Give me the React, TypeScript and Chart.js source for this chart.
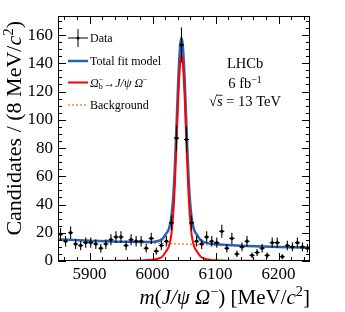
import React, { useEffect, useRef } from 'react';
import { Chart, registerables } from 'chart.js';

Chart.register(...registerables);

// ---------- data ----------
const binWidth = 8;
const binCenters = [5854, 5862, 5870, 5878, 5886, 5894, 5902, 5910, 5918, 5926, 5934, 5942, 5950, 5958, 5966, 5974, 5982, 5990, 5998, 6006, 6014, 6022, 6030, 6038, 6046, 6054, 6062, 6070, 6078, 6086, 6094, 6102, 6110, 6118, 6126, 6134, 6142, 6150, 6158, 6166, 6174, 6182, 6190, 6198, 6206, 6214, 6222, 6230, 6238, 6246];
const counts = [19, 14, 20, 12, 11, 13, 13, 12, 9, 12, 15, 17, 17, 11, 15, 14, 14, 9, 16, 7, 11, 14, 27, 87, 153, 86, 27, 14, 12, 17, 14, 13, 21, 9, 16, 5, 10, 14, 4, 6, 9, 4, 13, 13, 3, 11, 10, 13, 10, 9];

// fit curves
const fitMass = [5850, 5900, 5950, 6000, 6010, 6016, 6021, 6026, 6030, 6034, 6038, 6041, 6044, 6046, 6048, 6051, 6054, 6058, 6062, 6066, 6071, 6076, 6082, 6092, 6100, 6150, 6200, 6250];
const sigCurve = [0, 0, 0.1, 0.8, 1.8, 3.3, 6.5, 10.5, 19, 41, 82, 117, 141, 146, 141, 117, 82, 41, 19, 10.5, 6.5, 3.3, 1.8, 0.8, 0.5, 0.1, 0, 0];
const bkgCurve = [15.3, 14.4, 13.5, 12.7, 12.55, 12.45, 12.4, 12.3, 12.25, 12.2, 12.1, 12.1, 12.05, 12.0, 12.0, 11.95, 11.9, 11.85, 11.8, 11.75, 11.7, 11.6, 11.5, 11.4, 11.3, 10.6, 10.0, 9.4];

const xMin = 5850;
const xMax = 6250;
const yMin = 0;
const yMax = 173.5;
const xTickValues = [5900, 6000, 6100, 6200];
const yTickValues = [0, 20, 40, 60, 80, 100, 120, 140, 160];
const xMinorStep = 20;
const yMinorStep = 5;

const BLUE = 'rgb(38, 100, 178)';
const RED = '#ff0000';
const ORANGE = '#ff8a3a';
const FONT = '"Liberation Serif", "Times New Roman", serif';

Chart.defaults.font.family = FONT;

type Seg = { t: string; it?: boolean; sc?: 'sup' | 'sub'; stack?: boolean; over?: boolean };

function fontFor(size: number, s: Seg) {
  const sz = s.sc ? size * 0.68 : size;
  return `${s.it ? 'italic ' : ''}${sz}px ${FONT}`;
}
function richWidth(ctx: CanvasRenderingContext2D, segs: Seg[], size: number) {
  let w = 0;
  let pend = 0;
  for (const s of segs) {
    ctx.font = fontFor(size, s);
    const sw = ctx.measureText(s.t).width;
    if (s.stack) pend = Math.max(pend, sw);
    else {
      w += Math.max(sw, pend);
      pend = 0;
    }
  }
  return w + pend;
}
function drawRich(ctx: CanvasRenderingContext2D, segs: Seg[], x: number, y: number, size: number, align: 'left' | 'center' | 'right') {
  const w = richWidth(ctx, segs, size);
  let cx = align === 'left' ? x : align === 'center' ? x - w / 2 : x - w;
  ctx.textAlign = 'left';
  ctx.textBaseline = 'alphabetic';
  ctx.fillStyle = '#000';
  let pend = 0;
  for (const s of segs) {
    ctx.font = fontFor(size, s);
    const sw = ctx.measureText(s.t).width;
    const dy = s.sc === 'sup' ? -size * 0.36 : s.sc === 'sub' ? size * 0.22 : 0;
    ctx.fillText(s.t, cx, y + dy);
    if (s.over) {
      ctx.save();
      ctx.strokeStyle = '#000';
      ctx.lineWidth = 0.8;
      ctx.beginPath();
      ctx.moveTo(cx - 0.5, y - size * 0.74);
      ctx.lineTo(cx + sw, y - size * 0.74);
      ctx.stroke();
      ctx.restore();
    }
    if (s.stack) pend = Math.max(pend, sw);
    else {
      cx += Math.max(sw, pend);
      pend = 0;
    }
  }
}

const decorPlugin = {
  id: 'decor',
  afterDatasetsDraw(chart: any) {
    const ctx: CanvasRenderingContext2D = chart.ctx;
    const xs = chart.scales.x;
    const ys = chart.scales.y;
    ctx.save();
    ctx.strokeStyle = '#000';
    ctx.lineWidth = 1.1;
    binCenters.forEach((m, i) => {
      const n = counts[i];
      const e = Math.sqrt(n);
      const px = xs.getPixelForValue(m);
      const py = ys.getPixelForValue(n);
      ctx.beginPath();
      ctx.moveTo(px, ys.getPixelForValue(Math.max(0, n - e)));
      ctx.lineTo(px, ys.getPixelForValue(n + e));
      ctx.moveTo(xs.getPixelForValue(m - binWidth / 2), py);
      ctx.lineTo(xs.getPixelForValue(m + binWidth / 2), py);
      ctx.stroke();
    });
    ctx.restore();
  },
  afterDraw(chart: any) {
    const ctx: CanvasRenderingContext2D = chart.ctx;
    const { left, right, top, bottom } = chart.chartArea;
    const xs = chart.scales.x;
    const ys = chart.scales.y;
    ctx.save();
    ctx.strokeStyle = '#000';
    ctx.lineWidth = 1;
    ctx.strokeRect(left + 0.5, top + 0.5, right - left - 1, bottom - top - 1);
    ctx.beginPath();
    // x ticks
    for (let v = Math.ceil(xMin / xMinorStep) * xMinorStep; v <= xMax; v += xMinorStep) {
      const major = v % 100 === 0;
      const len = major ? 8 : 4;
      const px = Math.round(xs.getPixelForValue(v)) + 0.5;
      ctx.moveTo(px, bottom);
      ctx.lineTo(px, bottom - len);
      ctx.moveTo(px, top);
      ctx.lineTo(px, top + len);
    }
    // y ticks
    for (let v = yMin; v <= yMax; v += yMinorStep) {
      const major = v % 20 === 0;
      const len = major ? 8 : 4;
      const py = Math.round(ys.getPixelForValue(v)) + 0.5;
      ctx.moveTo(left, py);
      ctx.lineTo(left + len, py);
      ctx.moveTo(right, py);
      ctx.lineTo(right - len, py);
    }
    ctx.stroke();
    ctx.restore();

    // legend
    const lx0 = 68;
    const lx1 = 88;
    const tx = 90;
    const ls = 12;
    ctx.save();
    ctx.strokeStyle = '#000';
    ctx.lineWidth = 1;
    ctx.beginPath();
    ctx.moveTo(lx0, 38);
    ctx.lineTo(lx1, 38);
    ctx.moveTo(78, 29);
    ctx.lineTo(78, 47);
    ctx.stroke();
    ctx.fillStyle = '#000';
    ctx.beginPath();
    ctx.arc(78, 38, 1.6, 0, Math.PI * 2);
    ctx.fill();
    ctx.strokeStyle = BLUE;
    ctx.lineWidth = 2.5;
    ctx.beginPath();
    ctx.moveTo(lx0, 61);
    ctx.lineTo(lx1, 61);
    ctx.stroke();
    ctx.strokeStyle = RED;
    ctx.lineWidth = 2;
    ctx.beginPath();
    ctx.moveTo(lx0, 82.5);
    ctx.lineTo(lx1, 82.5);
    ctx.stroke();
    ctx.strokeStyle = ORANGE;
    ctx.lineWidth = 1.5;
    ctx.setLineDash([2, 2]);
    ctx.beginPath();
    ctx.moveTo(lx0, 105);
    ctx.lineTo(lx1, 105);
    ctx.stroke();
    ctx.setLineDash([]);
    ctx.restore();

    drawRich(ctx, [{ t: 'Data' }], tx, 42, ls, 'left');
    drawRich(ctx, [{ t: 'Total fit model' }], tx, 65, ls, 'left');
    drawRich(ctx, [
      { t: 'Ω', it: true },
      { t: 'b', sc: 'sub', stack: true },
      { t: '−', sc: 'sup' },
      { t: '→' },
      { t: 'J/ψ Ω', it: true },
      { t: '−', sc: 'sup' },
    ], tx, 86.5, ls, 'left');
    drawRich(ctx, [{ t: 'Background' }], tx, 109, ls, 'left');

    // LHCb label
    const ts = 14.5;
    drawRich(ctx, [{ t: 'LHCb' }], 245, 68, ts, 'center');
    drawRich(ctx, [{ t: '6 fb' }, { t: '−1', sc: 'sup' }], 245, 88, ts, 'center');
    drawRich(ctx, [{ t: '√' }, { t: 's', it: true, over: true }, { t: ' = 13 TeV' }], 245, 106, ts, 'center');

    // axis titles
    drawRich(ctx, [
      { t: 'm', it: true },
      { t: '(' },
      { t: 'J/ψ Ω', it: true },
      { t: '−', sc: 'sup' },
      { t: ') [MeV/' },
      { t: 'c', it: true },
      { t: '2', sc: 'sup' },
      { t: ']' },
    ], 310, 304, 21, 'right');

    ctx.save();
    ctx.translate(21, 21);
    ctx.rotate(-Math.PI / 2);
    drawRich(ctx, [
      { t: 'Candidates / (8 MeV/' },
      { t: 'c', it: true },
      { t: '2', sc: 'sup' },
      { t: ')' },
    ], 0, 0, 22, 'right');
    ctx.restore();
  },
};

export default function App() {
  const ref = useRef<HTMLCanvasElement>(null);
  useEffect(() => {
    const canvas = ref.current!;
    const totalCurve = sigCurve.map((s, i) => s + bkgCurve[i]);
    const tickFont = { family: FONT, size: 17 };
    const chart = new Chart(canvas, {
      type: 'scatter',
      data: {
        datasets: [
          {
            label: 'Data',
            data: binCenters.map((x, i) => ({ x, y: counts[i] })),
            pointRadius: 1.7,
            pointBackgroundColor: '#000',
            pointBorderWidth: 0,
            showLine: false,
            order: 0,
          } as any,
          {
            label: 'Signal',
            type: 'line',
            data: fitMass.map((x, i) => ({ x, y: sigCurve[i] })),
            borderColor: RED,
            borderWidth: 2,
            pointRadius: 0,
            fill: false,
            cubicInterpolationMode: 'monotone',
            order: 1,
          } as any,
          {
            label: 'Total fit model',
            type: 'line',
            data: fitMass.map((x, i) => ({ x, y: totalCurve[i] })),
            borderColor: BLUE,
            borderWidth: 2.5,
            pointRadius: 0,
            fill: false,
            cubicInterpolationMode: 'monotone',
            order: 2,
          } as any,
          {
            label: 'Background',
            type: 'line',
            data: fitMass.map((x, i) => ({ x, y: bkgCurve[i] })),
            borderColor: ORANGE,
            borderWidth: 1.5,
            borderDash: [2, 2],
            pointRadius: 0,
            fill: false,
            cubicInterpolationMode: 'monotone',
            order: 3,
          } as any,
        ],
      },
      options: {
        animation: false,
        responsive: false,
        devicePixelRatio: 1,
        layout: { padding: { left: 0, right: 35, top: 16, bottom: 0 } },
        plugins: { legend: { display: false }, tooltip: { enabled: false } },
        scales: {
          x: {
            type: 'linear',
            min: xMin,
            max: xMax,
            grid: { display: false, drawTicks: false },
            border: { display: false },
            ticks: {
              font: tickFont,
              color: '#000',
              padding: 3,
              maxRotation: 0,
              autoSkip: false,
              callback: (v: any) => String(v),
            },
            afterBuildTicks: (s: any) => {
              s.ticks = xTickValues.map((v) => ({ value: v }));
            },
            afterFit: (s: any) => {
              s.height = 51;
            },
          },
          y: {
            type: 'linear',
            min: yMin,
            max: yMax,
            grid: { display: false, drawTicks: false },
            border: { display: false },
            ticks: {
              font: tickFont,
              color: '#000',
              padding: 5,
              autoSkip: false,
              callback: (v: any) => String(v),
            },
            afterBuildTicks: (s: any) => {
              s.ticks = yTickValues.map((v) => ({ value: v }));
            },
            afterFit: (s: any) => {
              s.width = 58;
            },
          },
        },
      } as any,
      plugins: [decorPlugin],
    });
    return () => chart.destroy();
  }, []);
  return (
    <div style={{ position: 'fixed', left: 0, top: 0, width: 345, height: 312, background: '#fff' }}>
      <canvas ref={ref} width={345} height={312} style={{ display: 'block', width: 345, height: 312 }} />
    </div>
  );
}
